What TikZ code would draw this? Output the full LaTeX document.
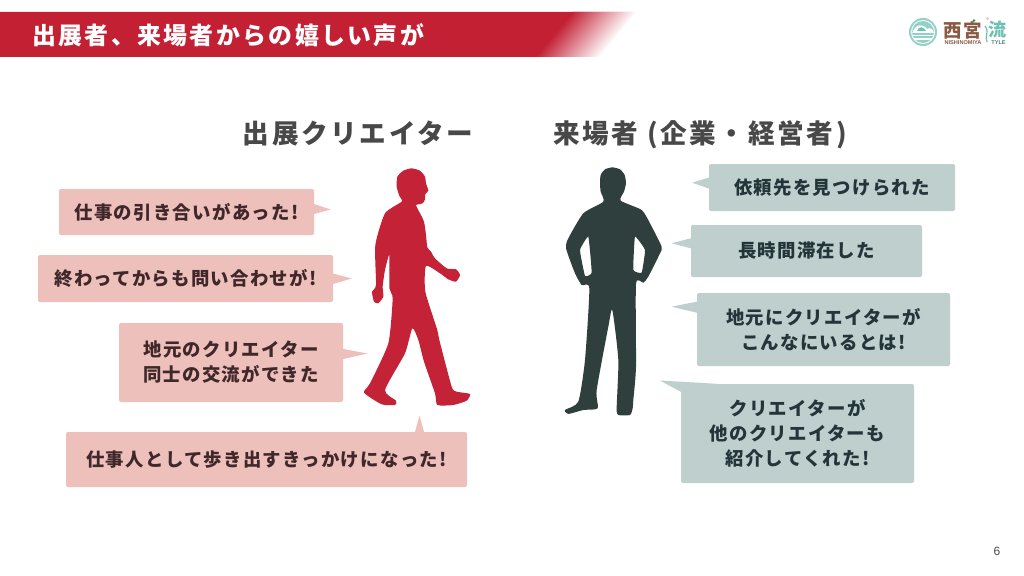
\documentclass[tikz,border=0pt]{standalone}
\usepackage{fontspec}
\usetikzlibrary{calc}
\newfontfamily\jpfont[LetterSpace=7]{Noto Sans CJK JP}
\newfontfamily\jptitle[LetterSpace=10]{Noto Sans CJK JP}
\newfontfamily\latinfont{Liberation Sans}
\definecolor{barred}{HTML}{C32034}
\definecolor{walkred}{HTML}{C42237}
\definecolor{pinkbub}{HTML}{EEC0BB}
\definecolor{greybub}{HTML}{BFCFCE}
\definecolor{darkman}{HTML}{2F3F3E}
\definecolor{pinktext}{HTML}{40282A}
\definecolor{greytext}{HTML}{24353A}
\definecolor{headtext}{HTML}{484848}
\definecolor{logobrown}{HTML}{8A5A44}
\definecolor{logoteal}{HTML}{6FC0B4}
\tikzset{
  pinkbox/.style={fill=pinkbub,rounded corners=2pt,inner sep=0pt,align=center,text=pinktext,font=\jpfont\bfseries\fontsize{18.4}{25}\selectfont},
  greybox/.style={fill=greybub,rounded corners=2pt,inner sep=0pt,align=center,text=greytext,font=\jpfont\bfseries\fontsize{18.4}{25}\selectfont},
  headtitle/.style={text=headtext,inner sep=0pt,anchor=base,font=\jptitle\bfseries\fontsize{26.6}{30}\selectfont},
}
\begin{document}
\begin{tikzpicture}[x=1pt,y=-1pt]
\useasboundingbox (0,0) rectangle (1024,575);
\fill [white] (0,0) rectangle (1024,575);

% title bar
\begin{scope}
\clip (0,12)--(635,12)--(598,57)--(0,57)--cycle;
\fill [barred] (0,12)--(573,12)--(536,57)--(0,57)--cycle;
\foreach \i in {0,...,49}{
  \pgfmathsetmacro{\mix}{100-2*\i}
  \fill [barred!\mix!white] (572+1.3*\i,12)--(575+1.3*\i,12)--(538+1.3*\i,57)--(535+1.3*\i,57)--cycle;
}
\end{scope}
\node (titletext) [anchor=west,text=white,inner sep=0pt,font=\jptitle\bfseries\fontsize{23.9}{28}\selectfont] at (32,35) {出展者、来場者からの嬉しい声が};

% logo
\fill [logoteal!75!white] (923,32) circle (14);
\fill [white] (923,32) circle (12);
\fill [logoteal!75!white] (923,32) circle (11);
\fill [white] (912,33) .. controls (916,24) and (922,23) .. (927,29) .. controls (930,27) and (933,29) .. (934,33)--cycle;
\fill [logoteal] (917,31) .. controls (919,26) and (923,26) .. (926,31)--cycle;
\fill [white] (912,35) rectangle (934,36.3);
\fill [white] (914,38.5) rectangle (932,39.7);
\node (logoname) [text=logobrown,inner sep=0pt,font=\jptitle\bfseries\fontsize{18.5}{20}\selectfont] at (963,30.5) {西宮};
\node (logoflow) [text=logoteal,inner sep=0pt,font=\jptitle\bfseries\fontsize{18}{20}\selectfont] at (997,30) {流};
\node (logoroma) [text=logobrown,inner sep=0pt,font=\latinfont\bfseries\fontsize{5.6}{6}\selectfont] at (963,43) {NISHINOMIYA};
\node (logotyle) [text=logoteal!70!black,inner sep=0pt,font=\latinfont\bfseries\fontsize{5.6}{6}\selectfont] at (998.5,43) {TYLE};
\draw [logoteal,line width=1.2pt] (987,42) .. controls (984,36) and (990,33) .. (985,26);
\fill [pink] (987.5,18.5) circle (1.6);
\fill [green!45!black!70!logoteal] (974,20.5) circle (1.4);

% headings
\node (creatorhead) [headtitle] at (358,143) {出展クリエイター};
\node (visitorhead) [headtitle] at (700,143) {来場者 (企業・経営者)};

% walking figure
\begin{scope}[shift={(350,160)},x=0.3333pt,y=-0.3333pt]
\fill [walkred] plot [smooth cycle,tension=0.35] coordinates {(185,25) (210,32) (225,50) (228,70) (235,92) (226,102) (225,118) (218,130) (198,135) (205,150) (222,185) (228,225) (232,262) (243,275) (255,295) (290,325) (318,328) (330,345) (318,365) (295,358) (270,340) (228,318) (226,395) (262,510) (268,540) (305,680) (320,695) (360,702) (350,722) (310,735) (262,735) (255,700) (222,605) (205,540) (187,505) (165,580) (105,690) (138,722) (135,735) (95,733) (42,698) (60,670) (115,550) (128,415) (118,385) (118,285) (105,330) (98,380) (100,410) (85,430) (72,425) (66,395) (78,375) (76,255) (105,160) (155,125) (148,108) (140,80) (142,50) (160,32)};
\end{scope}

% standing figure
\begin{scope}[shift={(550,160)},x=0.3333pt,y=-0.3333pt]
\fill [darkman,even odd rule] plot [smooth cycle,tension=0.35] coordinates {(187,22) (210,28) (224,45) (228,70) (222,95) (212,122) (275,150) (300,190) (335,260) (330,280) (295,350) (280,368) (258,372) (258,620) (250,720) (248,745) (240,765) (205,765) (200,745) (205,600) (187,450) (175,500) (140,690) (143,745) (100,750) (55,762) (45,750) (85,725) (105,600) (118,385) (95,375) (75,340) (48,265) (55,235) (100,160) (160,125) (152,95) (150,70) (152,45) (165,28)}
  plot [smooth cycle,tension=0.2] coordinates {(115,230) (90,270) (105,348) (125,338)}
  plot [smooth cycle,tension=0.2] coordinates {(255,230) (285,270) (275,338) (250,330)};
\end{scope}

% creator bubbles
\node (pinka) [pinkbox,minimum width=255pt,minimum height=46pt] at (186.5,212) {仕事の引き合いがあった!};
\node (pinkb) [pinkbox,minimum width=295pt,minimum height=47pt] at (185.5,278.5) {終わってからも問い合わせが!};
\node (pinkc) [pinkbox,minimum width=224pt,minimum height=79pt] at (231,362.5) {地元のクリエイター\\同士の交流ができた};
\node (pinkd) [pinkbox,minimum width=401pt,minimum height=55pt] at (266.5,459.5) {仕事人として歩き出すきっかけになった!};
\fill [pinkbub] ($(pinka.east)+(0,-8)$)--++(16.5,5.5)--($(pinka.east)+(0,2)$)--cycle;
\fill [pinkbub] ($(pinkb.east)+(0,-5)$)--++(18.5,5)--($(pinkb.east)+(0,5.5)$)--cycle;
\fill [pinkbub] ($(pinkc.east)+(0,-13.5)$)--++(24.5,4.5)--($(pinkc.east)+(0,-3.5)$)--cycle;
\fill [pinkbub] ($(pinkd.north)+(148.5,0)$)--++(4.5,-16)--($(pinkd.north)+(157.5,0)$)--cycle;

% visitor bubbles
\node (greya) [greybox,minimum width=246pt,minimum height=47pt] at (832,187.5) {依頼先を見つけられた};
\node (greyb) [greybox,minimum width=231pt,minimum height=52pt] at (806.5,251) {長時間滞在した};
\node (greyc) [greybox,minimum width=253pt,minimum height=73pt] at (823.5,329.5) {地元にクリエイターが\\こんなにいるとは!};
\node (greyd) [greybox,minimum width=233pt,minimum height=99pt] at (797.5,433.5) {クリエイターが\\他のクリエイターも\\紹介してくれた!};
\fill [greybub] ($(greya.west)+(0,-10)$)--++(-16.7,5.2)--($(greya.west)+(0,1)$)--cycle;
\fill [greybub] ($(greyb.west)+(0,-12.7)$)--++(-19.3,5)--($(greyb.west)+(0,-2.7)$)--cycle;
\fill [greybub] ($(greyc.west)+(0,-27.8)$)--++(-25.3,5)--($(greyc.west)+(0,-16.8)$)--cycle;
\fill [greybub] ($(greyd.north west)+(0,8)$)--++(-21,-11.3)--($(greyd.north west)+(36,0)$)--cycle;

% page number
\node (pageno) [text=headtext,inner sep=0pt,font=\latinfont\fontsize{12}{14}\selectfont] at (997,551) {6};
\end{tikzpicture}
\end{document}
